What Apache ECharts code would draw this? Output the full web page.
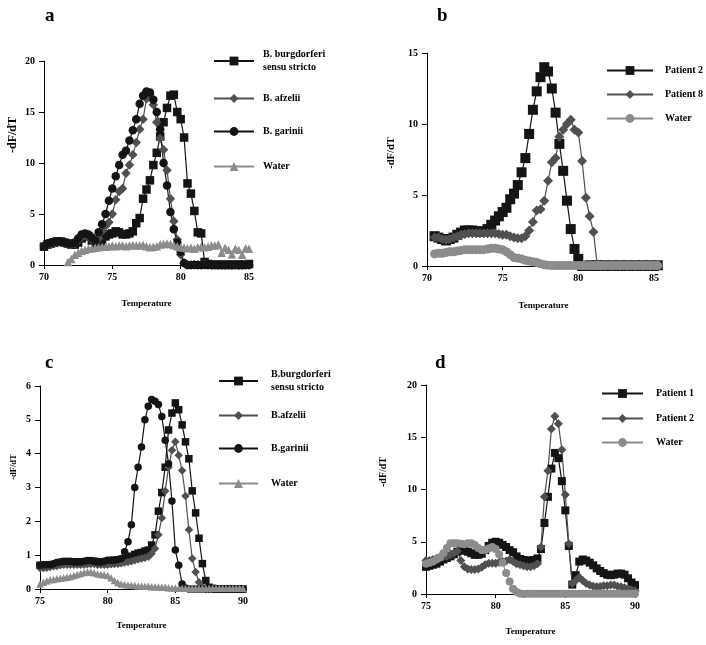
<!DOCTYPE html>
<html><head><meta charset="utf-8">
<script src="https://cdn.jsdelivr.net/npm/echarts@6/dist/echarts.min.js"></script>
<style>html,body{margin:0;padding:0;background:#fff}#c{width:706px;height:645px}</style>
</head><body><div id="c"></div>
<script>
// ---------- Panel a ----------
const tempA = [70,70.25,70.5,70.75,71,71.25,71.5,71.75,72,72.25,72.5,72.75,73,73.25,73.5,73.75,74,74.25,74.5,74.75,75,75.25,75.5,75.75,76,76.25,76.5,76.75,77,77.25,77.5,77.75,78,78.25,78.5,78.75,79,79.25,79.5,79.75,80,80.25,80.5,80.75,81,81.25,81.5,81.75,82,82.25,82.5,82.75,83,83.25,83.5,83.75,84,84.25,84.5,84.75,85];
const burgA = [1.8,2.0,2.1,2.2,2.3, 2.3,2.2,2.1,2.0,2.0, 2.2,2.6,2.9,2.8,2.4, 2.0,2.0,2.3,2.8,3.0, 3.1,3.3,3.2,3.0,3.0, 3.1,3.3,4.1,4.6,6.5, 7.4,8.3,9.8,11.0,12.6, 14.0,15.4,16.6,16.7,15.0, 14.3,12.5,8.0,7.0,5.3, 3.2,3.1,0.3,0.1,0.05, 0.0,0.05,0.0,0.05,0.0, 0.05,0.0,0.05,0.0,0.05, 0.1];
const afzA = [1.9,2.0,2.1,2.2,2.2, 2.2,2.1,2.0,2.0,2.1, 2.4,2.7,2.9,2.8,2.5, 2.3,2.6,3.3,3.8,4.2, 5.0,6.4,7.2,7.5,9.0, 9.8,10.8,12.0,13.3,14.3, 16.3,16.7,15.7,14.0,12.4, 11.3,9.3,6.5,4.3,2.5, 1.0,0.2,0.0,0.0,0.05, 0.0,0.0,0.05,0.0,0.0, 0.05,0.0,0.0,0.05,0.0, 0.0,0.05,0.0,0.0,0.05, 0.0];
const garA = [1.8,2.1,2.2,2.3,2.3, 2.3,2.2,2.1,2.1,2.2, 2.6,3.0,3.1,3.0,2.7, 2.4,3.2,4.0,5.0,6.3, 7.5,8.7,9.8,10.8,11.2, 12.2,13.2,14.3,15.8,16.6, 17.0,16.9,16.2,15.0,13.3, 10.0,7.8,5.2,3.5,2.2, 1.3,0.2,0.0,0.0,0.0, 0.0,0.0,0.0,0.0,0.0, 0.0,0.0,0.0,0.0,0.0, 0.0,0.0,0.0,0.0,0.0, 0.0];
const watA = [null,null,null,null,null, null,null,0.3,0.6,1.0, 1.2,1.4,1.5,1.6,1.65, 1.7,1.75,1.8,1.8,1.85, 1.9,1.85,1.9,1.9,1.85, 1.9,1.95,1.9,1.9,1.95, 1.85,1.75,1.8,1.85,2.0, 2.05,2.1,2.05,1.95,1.85, 1.75,1.7,1.65,1.7,1.6, 1.75,1.8,1.75,1.8,1.9, 1.9,2.0,1.2,1.7,1.5, 1.05,1.6,1.5,1.0,1.65, 1.6];

// ---------- Panel b ----------
const tempB = [70.5,70.75,71,71.25,71.5,71.75,72,72.25,72.5,72.75,73,73.25,73.5,73.75,74,74.25,74.5,74.75,75,75.25,75.5,75.75,76,76.25,76.5,76.75,77,77.25,77.5,77.75,78,78.25,78.5,78.75,79,79.25,79.5,79.75,80,80.25,80.5,80.75,81,81.25,81.5,81.75,82,82.25,82.5,82.75,83,83.25,83.5,83.75,84,84.25,84.5,84.75,85,85.25];
const pat2B = [2.1,2.0,1.9,1.8,1.9, 2.0,2.2,2.35,2.5,2.5, 2.5,2.45,2.4,2.45,2.6, 2.9,3.2,3.5,3.8,4.1, 4.7,5.1,5.7,6.6,7.6, 9.3,11.0,12.3,13.3,14.0, 13.7,12.5,10.8,8.6,6.7, 4.6,2.6,1.2,0.5,0.0, 0.0,0.05,0.0,0.05,0.0, 0.05,0.0,0.05,0.0,0.05, 0.0,0.05,0.0,0.05,0.0, 0.05,0.0,0.05,0.0,0.05];
const pat8B = [2.0,2.0,1.9,1.85,1.9, 2.0,2.1,2.2,2.25,2.3, 2.3,2.3,2.3,2.3,2.3, 2.3,2.3,2.25,2.2,2.2, 2.1,2.0,1.95,1.95,2.1, 2.5,3.1,3.9,4.0,4.6, 6.0,7.3,7.6,9.1,9.6, 10.0,10.3,9.6,9.4,7.4, 4.8,3.5,2.4,0.1,0.0, 0.0,0.05,0.0,0.05,0.0, 0.05,0.0,0.05,0.0,0.05, 0.0,0.05,0.0,0.05,0.0];
const watB = [0.85,0.9,0.9,0.95,1.0, 1.0,1.05,1.1,1.15,1.15, 1.15,1.15,1.15,1.15,1.2, 1.25,1.25,1.2,1.15,1.0, 0.8,0.6,0.55,0.5,0.4, 0.35,0.3,0.25,0.15,0.08, 0.05,0.04,0.03,0.03,0.03, 0.03,0.03,0.03,0.03,0.03, 0.03,0.03,0.03,0.03,0.03, 0.03,0.03,0.03,0.03,0.03, 0.03,0.03,0.03,0.03,0.03, 0.03,0.03,0.03,0.03,0.03];

// ---------- Panels c and d (same temperature steps) ----------
const tempCD = [75,75.25,75.5,75.75,76,76.25,76.5,76.75,77,77.25,77.5,77.75,78,78.25,78.5,78.75,79,79.25,79.5,79.75,80,80.25,80.5,80.75,81,81.25,81.5,81.75,82,82.25,82.5,82.75,83,83.25,83.5,83.75,84,84.25,84.5,84.75,85,85.25,85.5,85.75,86,86.25,86.5,86.75,87,87.25,87.5,87.75,88,88.25,88.5,88.75,89,89.25,89.5,89.75,90];
const burgC = [0.7,0.7,0.7,0.72,0.72, 0.75,0.78,0.8,0.8,0.8, 0.8,0.8,0.8,0.8,0.8, 0.82,0.82,0.8,0.8,0.8, 0.82,0.84,0.85,0.85,0.86, 0.88,0.92,0.97,1.02,1.06, 1.08,1.12,1.15,1.3,1.6, 2.3,2.85,3.6,4.7,5.2, 5.5,5.3,4.85,4.35,3.85, 2.9,2.25,1.5,0.75,0.25, 0.05,0.02,0.0,0.0,0.0, 0.0,0.0,0.0,0.0,0.0, 0.0];
const afzC = [0.62,0.62,0.63,0.65,0.67, 0.68,0.7,0.72,0.72,0.72, 0.72,0.72,0.72,0.72,0.73, 0.74,0.74,0.72,0.72,0.72, 0.72,0.73,0.74,0.75,0.76, 0.78,0.8,0.82,0.85,0.88, 0.9,0.92,0.95,1.05,1.2, 1.6,2.1,2.9,3.6,4.1, 4.35,3.95,3.5,2.75,1.75, 0.9,0.5,0.2,0.05,0.0, 0.0,0.0,0.0,0.0,0.0, 0.0,0.0,0.0,0.0,0.0, 0.0];
const garC = [0.7,0.72,0.72,0.72,0.75, 0.78,0.8,0.82,0.82,0.82, 0.8,0.8,0.8,0.82,0.84, 0.84,0.82,0.8,0.8,0.82, 0.85,0.85,0.85,0.87,0.9, 1.1,1.4,1.9,3.0,3.6, 4.2,5.0,5.4,5.6,5.55, 5.45,5.1,4.4,3.7,2.6, 1.15,0.7,0.15,0.03,0.0, 0.0,0.0,0.0,0.0,0.0, 0.0,0.0,0.0,0.0,0.0, 0.0,0.0,0.0,0.0,0.0, 0.0];
const watC = [0.15,0.2,0.24,0.27,0.28, 0.3,0.32,0.33,0.35,0.37, 0.4,0.43,0.46,0.49,0.5, 0.5,0.48,0.45,0.43,0.42, 0.4,0.33,0.25,0.19,0.15, 0.13,0.12,0.11,0.1,0.09, 0.09,0.08,0.08,0.07,0.07, 0.06,0.05,0.05,0.04,0.03, 0.03,0.02,0.02,0.02,0.02, 0.02,0.02,0.02,0.02,0.02, 0.02,0.02,0.02,0.02,0.02, 0.02,0.02,0.02,0.02,0.02, 0.02];
const pat1D = [2.6,2.7,2.8,2.9,3.1, 3.3,3.45,3.6,3.8,4.05, 4.15,4.2,4.05,3.9,3.75, 3.75,3.85,4.2,4.6,4.9, 5.0,4.9,4.7,4.5,4.2, 4.0,3.6,3.35,3.25,3.2, 3.2,3.25,3.4,4.3,6.8, 9.3,12.0,13.5,13.0,10.8, 8.0,4.6,0.9,1.8,3.1, 3.3,3.2,3.0,2.75,2.45, 2.2,2.0,1.85,1.8,1.85, 1.95,1.95,1.85,1.5,1.1, 0.85];
const pat2D = [3.2,3.2,3.3,3.4,3.5, 3.55,3.6,3.75,3.9,4.1, 3.2,2.6,2.4,2.35,2.35, 2.4,2.55,2.8,2.95,2.95, 2.95,3.05,3.1,3.15,3.3, 3.1,2.9,2.8,2.7,2.6, 2.6,2.7,2.9,4.5,9.3, 11.8,15.8,17.0,16.3,13.8, 9.5,4.8,1.0,1.3,1.6, 1.3,1.0,0.85,0.75,0.7, 0.72,0.78,0.8,0.85,0.85, 0.75,0.7,0.6,0.5,0.4, 0.3];
const watD = [2.9,3.0,3.1,3.3,3.5, 3.9,4.4,4.85,4.85,4.85, 4.8,4.75,4.85,4.85,4.7, 4.4,4.2,4.2,4.35,4.5, 4.3,3.8,3.0,2.0,1.2, 0.5,0.2,0.05,0.0,0.02, 0.02,0.02,0.02,0.02,0.02, 0.02,0.02,0.02,0.02,0.02, 0.02,0.02,0.02,0.02,0.02, 0.02,0.02,0.02,0.02,0.02, 0.02,0.02,0.02,0.02,0.02, 0.02,0.02,0.02,0.02,0.02, 0.02];

const xTicksB = [70, 75, 80, 85];

// ---------- styling ----------
const FONT = '"Liberation Serif", "Times New Roman", serif';
const BLACK = '#141414', DARK = '#505050', GRAY = '#8c8c8c';

function pts(t, v) {
  const out = [];
  for (let i = 0; i < t.length; i++) if (v[i] != null) out.push([t[i], v[i]]);
  return out;
}
function ser(id, gi, t, v, symbol, size, color) {
  return {
    name: id, type: 'line', xAxisIndex: gi, yAxisIndex: gi, data: pts(t, v),
    symbol: symbol, symbolSize: size, showSymbol: true, showAllSymbol: true,
    clip: false, animation: false, silent: true,
    lineStyle: { color: color, width: 1.2 },
    itemStyle: { color: color, borderWidth: 0 }
  };
}
function xAx(gi, min, max, gap, custom) {
  const a = {
    gridIndex: gi, type: 'value', min: min, max: max, interval: 5,
    name: 'Temperature', nameLocation: 'middle', nameGap: gap,
    nameTextStyle: { fontFamily: FONT, fontWeight: 'bold', fontSize: 9, color: '#000' },
    axisLine: { onZero: false, lineStyle: { color: '#000', width: 1 } },
    axisTick: { show: true, length: 4, lineStyle: { color: '#000' } },
    axisLabel: { fontFamily: FONT, fontWeight: 'bold', fontSize: 10, color: '#000', margin: 7 },
    splitLine: { show: false }
  };
  if (custom) { a.axisTick.customValues = custom; a.axisLabel.customValues = custom; }
  return a;
}
function yAx(gi, max, interval, gap, fs, pad) {
  return {
    gridIndex: gi, type: 'value', min: 0, max: max, interval: interval,
    name: '-dF/dT', nameLocation: 'middle', nameGap: gap,
    nameTextStyle: { fontFamily: FONT, fontWeight: 'bold', fontSize: fs, color: '#000', padding: [0, 0, 0, pad] },
    axisLine: { show: true, onZero: false, lineStyle: { color: '#000', width: 1 } },
    axisTick: { show: true, length: 5, lineStyle: { color: '#000' } },
    axisLabel: { fontFamily: FONT, fontWeight: 'bold', fontSize: 10, color: '#000', margin: 9 },
    splitLine: { show: false }
  };
}
const LABELS = {};
function leg(id, label, left, top, w, padL, twoLine) {
  LABELS[id] = label;
  const ts = { fontFamily: FONT, fontWeight: 'bold', fontSize: 10, color: '#000', padding: [0, 0, 0, padL] };
  if (twoLine) { ts.lineHeight = 13; ts.padding = [13, 0, 0, padL]; }
  return {
    data: [id], left: left, top: top, orient: 'vertical', padding: 0,
    itemWidth: w, itemHeight: 11, selectedMode: false,
    formatter: function (n) { return LABELS[n]; },
    textStyle: ts
  };
}
function title(t, left, top) {
  return { text: t, left: left, top: top, padding: 0,
    textStyle: { fontFamily: FONT, fontWeight: 'bold', fontSize: 19, color: '#000' } };
}

const option = {
  backgroundColor: '#fff',
  animation: false,
  title: [title('a', 45, 7), title('b', 437, 7), title('c', 45, 354), title('d', 435, 354)],
  grid: [
    { left: 44, top: 61, width: 205, height: 204 },
    { left: 427, top: 53, width: 233, height: 213 },
    { left: 40, top: 386, width: 203, height: 203 },
    { left: 426, top: 385, width: 209, height: 209 }
  ],
  xAxis: [
    xAx(0, 70, 85, 34),
    xAx(1, 70, 85.4, 35, xTicksB),
    xAx(2, 75, 90, 32),
    xAx(3, 75, 90, 33)
  ],
  yAxis: [
    yAx(0, 20, 5, 25, 12, 56),
    yAx(1, 15, 5, 30, 10.5, 13),
    yAx(2, 6, 1, 22, 8.5, 41),
    yAx(3, 20, 5, 38, 10, 35)
  ],
  legend: [
    leg('a-burg', 'B. burgdorferi\nsensu stricto', 213, 41.5, 40, 4, true),
    leg('a-afz', 'B. afzelii', 213, 93.5, 40, 4),
    leg('a-gar', 'B. garinii', 213, 126.5, 40, 4),
    leg('a-wat', 'Water', 213, 161.5, 40, 4),
    leg('b-p2', 'Patient 2', 606, 65.5, 46, 7),
    leg('b-p8', 'Patient 8', 606, 89.5, 46, 7),
    leg('b-wat', 'Water', 606, 113.5, 46, 7),
    leg('c-burg', 'B.burgdorferi\nsensu stricto', 218, 361.5, 39, 8, true),
    leg('c-afz', 'B.afzelii', 218, 410.5, 39, 8),
    leg('c-gar', 'B.garinii', 218, 443.5, 39, 8),
    leg('c-wat', 'Water', 218, 478.5, 39, 8),
    leg('d-p1', 'Patient 1', 601, 388.5, 41, 8),
    leg('d-p2', 'Patient 2', 601, 413.5, 41, 8),
    leg('d-wat', 'Water', 601, 437.5, 41, 8)
  ],
  series: [
    ser('a-burg', 0, tempA, burgA, 'rect', 8.5, BLACK),
    ser('a-afz', 0, tempA, afzA, 'diamond', 9.5, DARK),
    ser('a-gar', 0, tempA, garA, 'circle', 8.5, BLACK),
    ser('a-wat', 0, tempA, watA, 'triangle', 8.5, GRAY),
    ser('b-p2', 1, tempB, pat2B, 'rect', 10, BLACK),
    ser('b-p8', 1, tempB, pat8B, 'diamond', 10, DARK),
    ser('b-wat', 1, tempB, watB, 'circle', 9, GRAY),
    ser('c-burg', 2, tempCD, burgC, 'rect', 7.5, BLACK),
    ser('c-afz', 2, tempCD, afzC, 'diamond', 8.5, DARK),
    ser('c-gar', 2, tempCD, garC, 'circle', 7.5, BLACK),
    ser('c-wat', 2, tempCD, watC, 'triangle', 7.5, GRAY),
    ser('d-p1', 3, tempCD, pat1D, 'rect', 8, BLACK),
    ser('d-p2', 3, tempCD, pat2D, 'diamond', 9, DARK),
    ser('d-wat', 3, tempCD, watD, 'circle', 8, GRAY)
  ]
};
const chart = echarts.init(document.getElementById('c'), null, { renderer: 'canvas' });
chart.setOption(option);
</script>
</body></html>
